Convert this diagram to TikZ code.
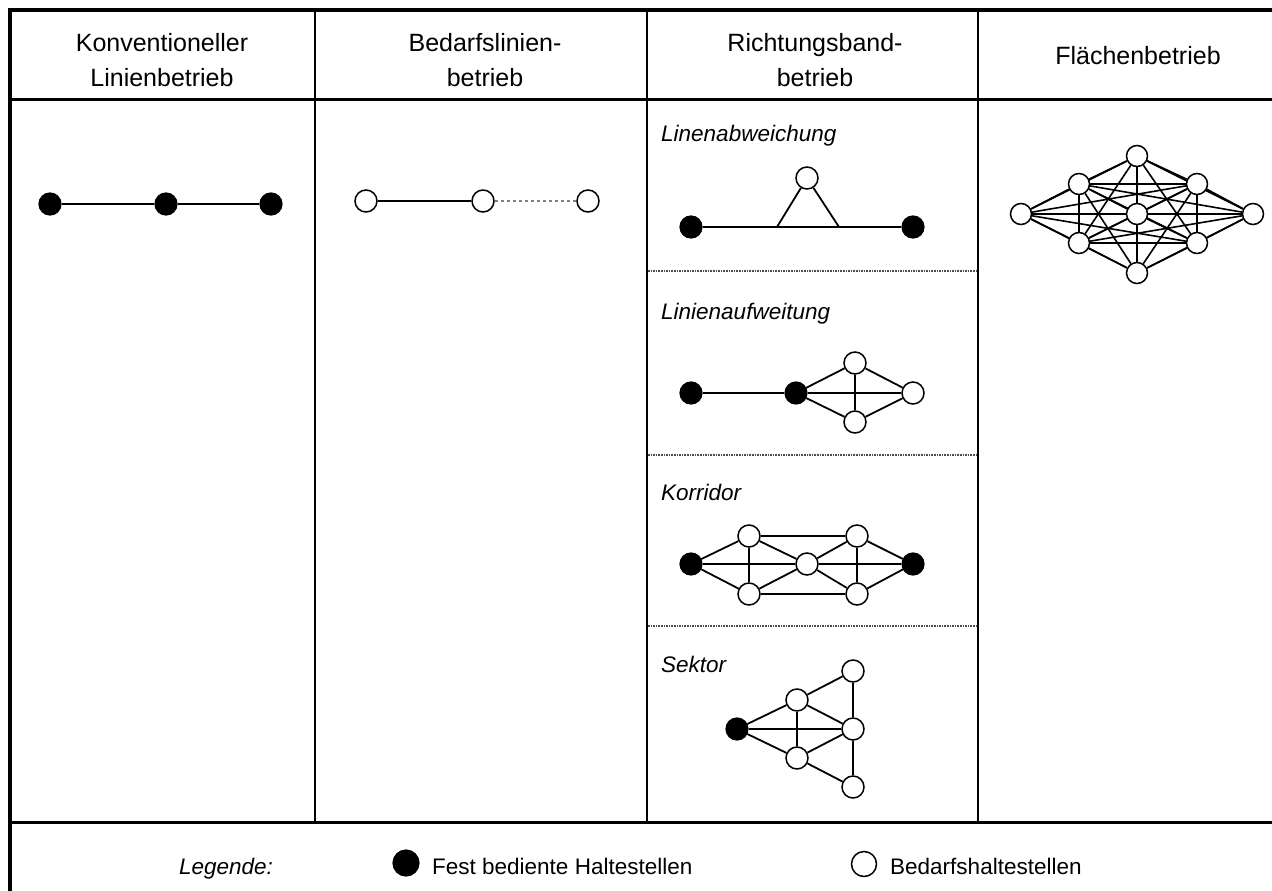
\documentclass[tikz,border=0pt]{standalone}
\usepackage{fontspec}
\setmainfont{Liberation Sans}
\usetikzlibrary{backgrounds}

\tikzset{
  fest/.style={circle, draw, fill=black, inner sep=0pt, minimum size=22pt, line width=1.2pt},
  bedarf/.style={circle, draw, fill=white, inner sep=0pt, minimum size=22pt, line width=1.5pt},
  kante/.style={line width=1.8pt},
  kopf/.style={font=\fontsize{25}{35}\selectfont, align=center},
  unter/.style={font=\fontsize{22.5}{26}\selectfont\itshape, anchor=base west, inner sep=0pt},
  legtext/.style={font=\fontsize{22.5}{26}\selectfont, anchor=base west, inner sep=0pt},
  trenn/.style={densely dotted, gray!60!black, line width=1.6pt},
}

\begin{document}
\begin{tikzpicture}[x=1pt, y=-1pt]
  \clip (0,0) rectangle (1272,891);

  % Frame and table lines
  \draw[line width=3.5pt] (10,905) -- (10,10) -- (1290,10);
  \draw[line width=3pt] (10,99) -- (1290,99);
  \draw[line width=3pt] (10,822) -- (1290,822);
  \foreach \x in {315, 647, 978} {
    \draw[line width=2pt] (\x,10) -- (\x,822);
  }
  \foreach \y in {271, 455, 626} {
    \draw[trenn] (648,\y) -- (977,\y);
  }

  % Headers
  \node[kopf] (h1) at (162,60) {Konventioneller\\Linienbetrieb};
  \node[kopf] (h2) at (485,60) {Bedarfslinien-\\betrieb};
  \node[kopf] (h3) at (815,60) {Richtungsband-\\betrieb};
  \node[kopf] (h4) at (1138,56) {Flächenbetrieb};

  % Konventioneller Linienbetrieb
  \foreach \n/\x in {1/50, 2/166, 3/271} {
    \node[fest] (k\n) at (\x,204) {};
  }
  \draw[kante] (k1) -- (k2) -- (k3);

  % Bedarfslinienbetrieb
  \foreach \n/\x in {1/366, 2/483, 3/588} {
    \node[bedarf] (b\n) at (\x,201) {};
  }
  \draw[kante] (b1) -- (b2);
  \draw[kante, dashed, gray, line width=1.2pt] (b2) -- (b3);

  % Linienabweichung
  \node[unter] (la) at (661,141) {Linenabweichung};
  \node[fest] (la1) at (691,227) {};
  \node[fest] (la2) at (913,227) {};
  \node[bedarf] (la3) at (807,178) {};
  \coordinate (lafl) at (777,227);
  \coordinate (lafr) at (839,227);
  \draw[kante] (la1) -- (la2);
  \draw[kante] (lafl) -- (la3) -- (lafr);

  % Linienaufweitung
  \node[unter] (lw) at (661,319) {Linienaufweitung};
  \node[fest] (lw1) at (691,393) {};
  \node[fest] (lw2) at (796,393) {};
  \node[bedarf] (lw3) at (855,363) {};
  \node[bedarf] (lw4) at (855,422) {};
  \node[bedarf] (lw5) at (913,393) {};
  \foreach \a/\b in {1/2, 2/3, 2/4, 2/5, 3/4, 3/5, 4/5} {
    \draw[kante] (lw\a) -- (lw\b);
  }

  % Korridor
  \node[unter] (ko) at (661,500) {Korridor};
  \node[fest] (ko1) at (691,564) {};
  \node[bedarf] (ko2) at (749,536) {};
  \node[bedarf] (ko3) at (749,594) {};
  \node[bedarf] (ko4) at (807,564) {};
  \node[bedarf] (ko5) at (857,536) {};
  \node[bedarf] (ko6) at (857,594) {};
  \node[fest] (ko7) at (913,564) {};
  \foreach \a/\b in {1/2, 1/3, 1/4, 4/7, 2/3, 2/5, 3/6, 2/4, 3/4, 4/5, 4/6, 5/6, 5/7, 6/7} {
    \draw[kante] (ko\a) -- (ko\b);
  }

  % Sektor
  \node[unter] (se) at (661,672) {Sektor};
  \node[fest] (se1) at (737,729) {};
  \node[bedarf] (se2) at (797,700) {};
  \node[bedarf] (se3) at (797,758) {};
  \node[bedarf] (se4) at (853,671) {};
  \node[bedarf] (se5) at (853,729) {};
  \node[bedarf] (se6) at (853,787) {};
  \foreach \a/\b in {1/2, 1/3, 1/5, 2/3, 2/4, 2/5, 3/5, 3/6, 4/5, 5/6} {
    \draw[kante] (se\a) -- (se\b);
  }

  % Flaechenbetrieb: every stop linked to every other
  \foreach \n/\x/\y in {1/1021/214, 2/1079/184, 3/1137/156, 4/1197/184, 5/1253/214,
                        6/1197/243, 7/1137/273, 8/1079/243, 9/1137/214} {
    \node[bedarf, minimum size=21pt] (f\n) at (\x,\y) {};
  }
  \begin{scope}[on background layer]
    \foreach \i in {1,...,8} {
      \pgfmathtruncatemacro{\nxt}{\i+1}
      \foreach \j in {\nxt,...,9} {
        \draw[kante, line width=1.6pt] (f\i) -- (f\j);
      }
    }
  \end{scope}

  % Legend
  \node[unter, anchor=base] (leg) at (226,874) {Legende:};
  \node[fest, minimum size=26pt] (lf) at (406,863) {};
  \node[legtext] (lft) at (432,874) {Fest bediente Haltestellen};
  \node[bedarf, minimum size=25pt] (lb) at (864,864) {};
  \node[legtext] (lbt) at (890,874) {Bedarfshaltestellen};
\end{tikzpicture}
\end{document}
